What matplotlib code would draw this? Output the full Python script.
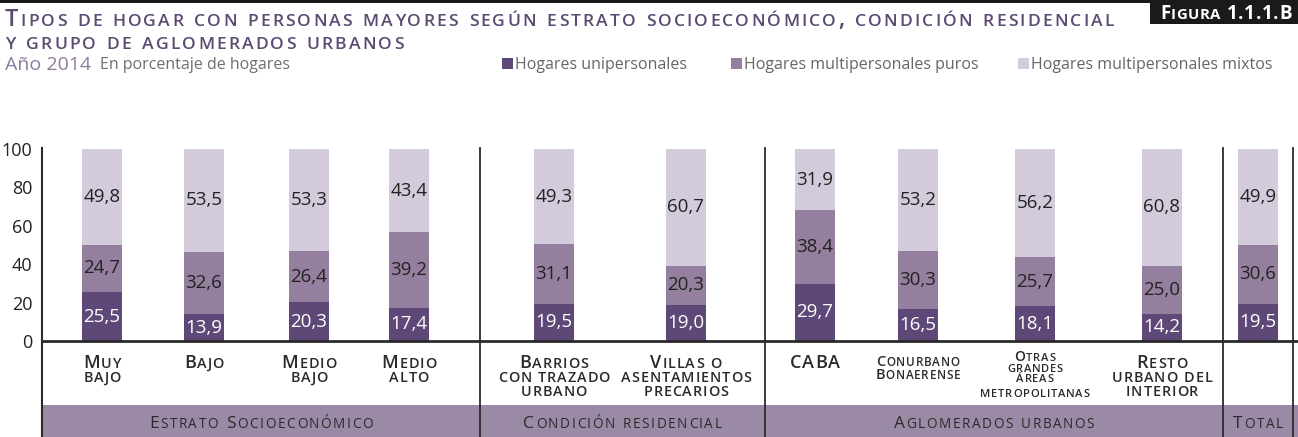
import matplotlib
matplotlib.use('Agg')
import matplotlib.pyplot as plt
from matplotlib.patches import Rectangle
import numpy as np

# --- data ---
categorias = ['Muy bajo', 'Bajo', 'Medio bajo', 'Medio alto',
              'Barrios con trazado urbano', 'Villas o asentamientos precarios',
              'CABA', 'Conurbano Bonaerense', 'Otras grandes áreas metropolitanas',
              'Resto urbano del interior', 'Total']
unipersonales = [25.5, 13.9, 20.3, 17.4, 19.5, 19.0, 29.7, 16.5, 18.1, 14.2, 19.5]
puros = [24.7, 32.6, 26.4, 39.2, 31.1, 20.3, 38.4, 30.3, 25.7, 25.0, 30.6]
mixtos = [49.8, 53.5, 53.3, 43.4, 49.3, 60.7, 31.9, 53.2, 56.2, 60.8, 49.9]
series_names = ['Hogares unipersonales', 'Hogares multipersonales puros', 'Hogares multipersonales mixtos']
grupos = ['Estrato Socioeconómico', 'Condición residencial', 'Aglomerados urbanos', 'Total']

# --- layout (pixels) ---
W, H = 1298, 437
bar_x = [102, 204, 309, 409, 554, 686, 815, 918, 1035, 1162, 1258]
cat_lines = [['Muy', 'bajo'], ['Bajo'], ['Medio', 'bajo'], ['Medio', 'alto'],
             ['Barrios', 'con trazado', 'urbano'], ['Villas o', 'asentamientos', 'precarios'],
             ['CABA'], ['Conurbano', 'Bonaerense'], ['Otras', 'grandes', 'áreas', 'metropolitanas'],
             ['Resto', 'urbano del', 'interior'], []]
sep_x = [480, 765, 1223, 1293]
grupo_x = [(42 + 480) / 2, (480 + 765) / 2, (765 + 1223) / 2, (1223 + 1293) / 2]
y0_px, y100_px = 341, 149

c_dark, c_mid, c_light = '#5e4878', '#94809e', '#d3cbdb'
c_band = '#9b8aa6'
c_title = '#5b4a72'

plt.rcParams['font.family'] = ['Open Sans', 'DejaVu Sans']

fig = plt.figure(figsize=(W / 100, H / 100), dpi=100)
renderer = fig.canvas.get_renderer()

# overlay in pixel coordinates for decorations
deco = fig.add_axes([0, 0, 1, 1], zorder=0)
deco.set_xlim(0, W)
deco.set_ylim(H, 0)
deco.axis('off')

_wcache = {}


def width_of(txt, size, weight):
    key = (txt, size, weight)
    if key not in _wcache:
        a = fig.text(0, 0, '|' + txt + '|', fontsize=size, weight=weight)
        b = fig.text(0, 0, '||', fontsize=size, weight=weight)
        _wcache[key] = a.get_window_extent(renderer).width - b.get_window_extent(renderer).width
        a.remove()
        b.remove()
    return _wcache[key]


def sc_line(s, x, y, size, ha='center', color='#2a2a2a', ratio=0.74, weight='normal', track=0.0):
    # small caps drawn char by char: capitals full size, lowercase as smaller capitals
    parts = []
    for ch in s:
        sz = size * ratio if ch.islower() else size
        c = ch.upper()
        parts.append((c, sz, width_of(c, sz, weight) + track))
    total = sum(p[2] for p in parts) - track
    xx = x - total / 2 if ha == 'center' else (x - total if ha == 'right' else x)
    for c, sz, w in parts:
        if c != ' ':
            fig.text(xx / W, 1 - y / H, c, fontsize=sz, color=color, weight=weight,
                     ha='left', va='baseline')
        xx += w
    return total


# top rule and figure tag
deco.add_patch(Rectangle((0, 0), W, 3, color='#1a1a1a', lw=0))
deco.add_patch(Rectangle((1150, 0), W - 1150, 24, color='#1a1a1a', lw=0))
sc_line('Figura 1.1.1.B', 1226, 19, 13.5, color='white', weight='bold', ratio=0.8, track=0.6)

# title
sc_line('Tipos de hogar con personas mayores según estrato socioeconómico, condición residencial',
        5, 26, 17, ha='left', color=c_title, ratio=0.74, weight='semibold', track=2.2)
sc_line('y grupo de aglomerados urbanos', 5, 49, 17, ha='left', color=c_title, ratio=0.74,
        weight='semibold', track=2.2)

fig.text(5 / W, 1 - 70 / H, 'Año 2014', fontsize=14, color='#8d7c9c', va='baseline')
fig.text(100 / W, 1 - 69 / H, 'En porcentaje de hogares', fontsize=11.5, color='#6f6f6f', va='baseline')

# legend
leg_x = [502, 731, 1018]
for lx, name, col in zip(leg_x, series_names, [c_dark, c_mid, c_light]):
    deco.add_patch(Rectangle((lx, 58), 11, 11, color=col, lw=0))
    fig.text((lx + 13) / W, 1 - 69 / H, name, fontsize=11.5, color='#666666', va='baseline')

# bottom band
deco.add_patch(Rectangle((42, 405), W - 42, H - 405, color=c_band, lw=0))
for gx, g in zip(grupo_x, grupos):
    sc_line(g, gx, 428, 12.5, color='#2a2a2a', ratio=0.78, track=1.6)

# axis line and separators
deco.plot([42, 42], [148, H], color='#2a2a2a', lw=1.5)
for sx in sep_x:
    deco.plot([sx, sx], [148, H], color='#2a2a2a', lw=1.3)

# category labels
for i, (bx, lines) in enumerate(zip(bar_x, cat_lines)):
    if i == 7:
        size, ys, track = 10.5, [366, 379], 0.8
    elif i == 8:
        size, ys, track = 10, [361, 372, 382, 397], 0.8
    else:
        size, ys, track = 13, [368, 382, 396], 0.9
    for ln, y in zip(lines, ys):
        sc_line(ln, bx, y, size, ratio=0.8, weight='semibold', track=track)

# --- main bars ---
ax = fig.add_axes([42 / W, (H - y0_px) / H, (W - 42) / W, (y0_px - y100_px) / H], zorder=1)
ax.patch.set_alpha(0)
ax.set_xlim(42, W)
ax.set_ylim(0, 100)

uni = np.array(unipersonales)
pur = np.array(puros)
mix = np.array(mixtos)
ax.bar(bar_x, uni, width=40, color=c_dark, lw=0)
ax.bar(bar_x, pur, width=40, bottom=uni, color=c_mid, lw=0)
ax.bar(bar_x, mix, width=40, bottom=uni + pur, color=c_light, lw=0)

for bx, a, b, c in zip(bar_x, uni, pur, mix):
    ax.text(bx, a / 2, f'{a:.1f}'.replace('.', ','), ha='center', va='center', fontsize=13.5, color='white')
    ax.text(bx, a + b / 2, f'{b:.1f}'.replace('.', ','), ha='center', va='center', fontsize=13.5, color='#222222')
    ax.text(bx, a + b + c / 2, f'{c:.1f}'.replace('.', ','), ha='center', va='center', fontsize=13.5, color='#222222')

for s in ['top', 'right', 'left']:
    ax.spines[s].set_visible(False)
ax.spines['bottom'].set_color('#2a2a2a')
ax.spines['bottom'].set_linewidth(2)
ax.set_xticks([])
ax.set_yticks([0, 20, 40, 60, 80, 100])
ax.tick_params(axis='y', length=0, pad=7, labelsize=13, labelcolor='#222222')

fig.savefig('out.png', dpi=100)
